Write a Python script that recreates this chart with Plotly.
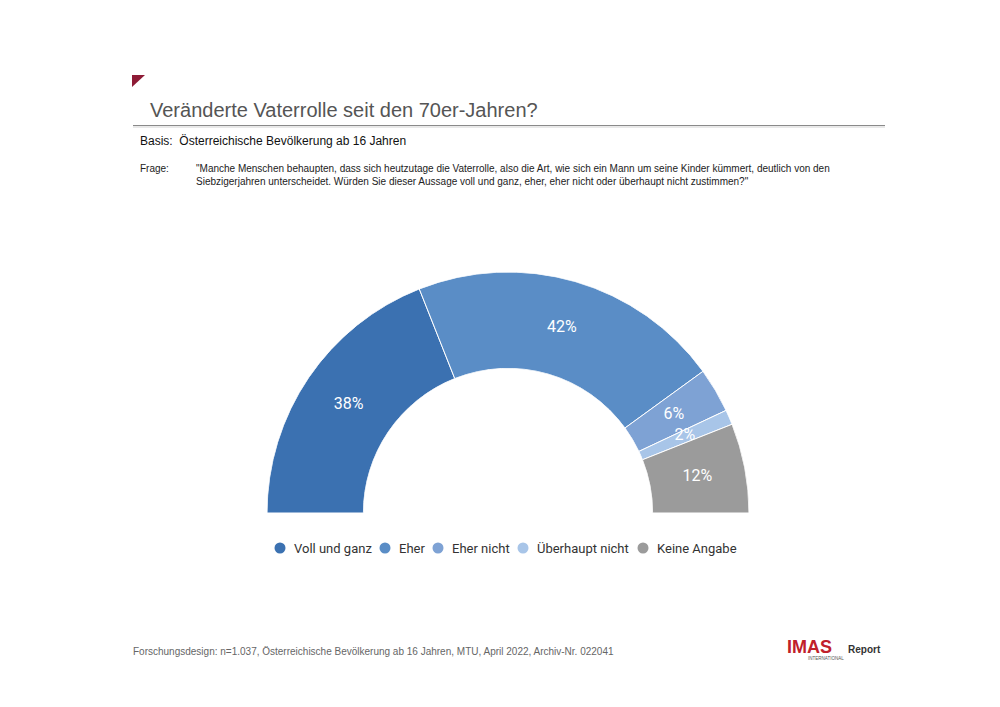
import plotly.graph_objects as go

categories = ["Voll und ganz", "Eher", "Eher nicht", "Überhaupt nicht", "Keine Angabe"]
values = [38, 42, 6, 2, 12]
colors = ["#3b71b1", "#5a8dc6", "#7ea2d4", "#a8c5e8", "#9b9b9b"]

fig = go.Figure()

# half-donut: 100% spans 180 degrees
total = sum(values)
start = 0.0
mids, widths = [], []
for v in values:
    w = v / total * 180.0
    mids.append(start + w / 2)
    widths.append(w)
    start += w

for cat, m, w, c in zip(categories, mids, widths, colors):
    fig.add_trace(go.Barpolar(
        r=[1], theta=[m], width=[w], base=0,
        marker=dict(color=c, line=dict(color="white", width=1)),
        name=cat, showlegend=False, hoverinfo="name",
    ))

fig.add_trace(go.Scatterpolar(
    r=[0.5] * len(values), theta=mids, mode="text",
    text=[f"{v}%" for v in values],
    textfont=dict(family="Roboto", size=16, color="white"),
    showlegend=False, hoverinfo="skip",
))

fig.update_layout(
    width=1000, height=707, autosize=False,
    margin=dict(l=0, r=0, t=0, b=0),
    paper_bgcolor="white", plot_bgcolor="white",
    showlegend=False,
    polar=dict(
        domain=dict(x=[0.267, 0.749], y=[1 - 513 / 707, 1 - 272 / 707]),
        sector=[0, 180], hole=0.6, bgcolor="white",
        angularaxis=dict(direction="clockwise", rotation=180, visible=False,
                         showgrid=False, showline=False, ticks=""),
        radialaxis=dict(range=[0, 1], visible=False, showgrid=False),
    ),
    font=dict(family="Liberation Sans, Arial"),
)

shapes = [
    dict(type="path", xref="paper", yref="paper",
         path=f"M 0.132 {1-75/707} L 0.145 {1-75/707} L 0.132 {1-87/707} Z",
         fillcolor="#8e1b36", line=dict(width=0)),
    dict(type="line", xref="paper", yref="paper", x0=0.133, x1=0.885,
         y0=1 - 125.5 / 707, y1=1 - 125.5 / 707, line=dict(color="#8a8a8a", width=1.2)),
    dict(type="line", xref="paper", yref="paper", x0=0.133, x1=0.885,
         y0=1 - 127 / 707, y1=1 - 127 / 707, line=dict(color="#e2e2e2", width=1.5)),
]

def ann(text, x, y, size, color="#000000", xanchor="left", family="Liberation Sans, Arial", **kw):
    return dict(text=text, x=x / 1000, y=1 - y / 707, xref="paper", yref="paper",
                xanchor=xanchor, yanchor="middle", showarrow=False,
                font=dict(size=size, color=color, family=family), align="left", **kw)

annotations = [
    ann("Veränderte Vaterrolle seit den 70er-Jahren?", 148, 110, 20, "#555555"),
    ann("Basis:  Österreichische Bevölkerung ab 16 Jahren", 138, 141, 12, "#111111"),
    ann("Frage:", 138, 168, 10, "#222222"),
    ann("\"Manche Menschen behaupten, dass sich heutzutage die Vaterrolle, also die Art, wie sich ein Mann um seine Kinder kümmert, deutlich von den"
        "<br>Siebzigerjahren unterscheidet. Würden Sie dieser Aussage voll und ganz, eher, eher nicht oder überhaupt nicht zustimmen?\"",
        194, 174.5, 10, "#222222"),
    ann("Forschungsdesign: n=1.037, Österreichische Bevölkerung ab 16 Jahren, MTU, April 2022, Archiv-Nr. 022041",
        131, 651, 10, "#666666"),
    ann("<b>IMAS</b>", 785, 647, 18, "#c0202a"),
    ann("<b>Report</b>", 846, 649, 10, "#333333"),
    ann("INTERNATIONAL", 806, 658, 4.5, "#555555"),
]

# compact legend (round markers) below the half-donut
legend_marker_x = [280, 385, 438, 523, 643]
legend_y = 548
for cat, c, mx in zip(categories, colors, legend_marker_x):
    shapes.append(dict(type="circle", xref="paper", yref="paper",
                       x0=(mx - 5.5) / 1000, x1=(mx + 5.5) / 1000,
                       y0=1 - (legend_y + 5.5) / 707, y1=1 - (legend_y - 5.5) / 707,
                       fillcolor=c, line=dict(width=0)))
    annotations.append(ann(cat, mx + 12, legend_y, 13, "#333333", family="Roboto"))

fig.update_layout(shapes=shapes, annotations=annotations)

fig.write_html("out.html")
